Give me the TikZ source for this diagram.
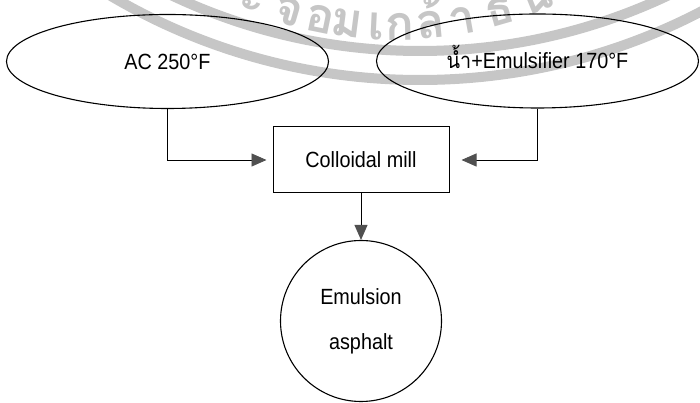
\documentclass[tikz,border=0pt]{standalone}
\usepackage{fontspec}
\setmainfont{Liberation Sans}[FakeStretch=0.9]
\newfontfamily\thaifont[Script=Thai,FakeStretch=0.9]{Loma}
\newfontfamily\sealfont[Script=Thai]{Loma}
\usetikzlibrary{arrows.meta,shapes.geometric}
\definecolor{sealgray}{HTML}{C6C6C6}
\definecolor{tipgray}{HTML}{505050}

\tikzset{
  label font/.style={font=\fontsize{22}{26}\selectfont},
  inputblob/.style={draw=black, line width=1.1pt, ellipse, minimum width=322pt,
    minimum height=94pt, inner sep=0pt, label font, text height=16pt, text depth=0pt},
  millbox/.style={draw=black, line width=1pt, rectangle, minimum width=176pt,
    minimum height=66pt, inner sep=0pt, label font},
  productdisc/.style={draw=black, line width=1.1pt, circle, minimum size=161pt,
    inner sep=0pt, align=center, font=\fontsize{22}{45}\selectfont},
  flow/.style={draw=black, line width=0.9pt,
    -{Triangle[length=15pt,width=13pt,color=tipgray]}},
  sealband/.style={draw=sealgray, line width=10pt},
  sealchar/.style={text=sealgray, anchor=base, inner sep=0pt,
    font=\sealfont\bfseries\fontsize{48}{48}\selectfont},
}

\begin{document}
\begin{tikzpicture}[x=1pt,y=1pt]
\useasboundingbox (0,0) rectangle (700,403);

% faint library seal behind the chart
\begin{scope}
  \clip (0,0) rectangle (700,403);
  \coordinate (ringc) at (420,933);
  \draw[sealband] (ringc) circle (581);
  \draw[sealband] (ringc) circle (610);
  \coordinate (textc) at (395,753);
  \foreach \ang/\ch in {-22.1/ะ, -16.4/จ, -11.5/อ, -7.4/ม, -2.8/เ,
                        0.7/ก, 5.4/ล้, 10.3/า, 16.1/ธ, 22.0/น} {
    \node[sealchar, rotate=\ang] at ([shift={(textc)}]270+\ang:390) {\ch};
  }
\end{scope}

% process chart
\node[inputblob] (ac) at (167.5,341.5) {AC 250°F};
\node[inputblob] (water) at (537.5,342) {{\thaifont น้ำ}+Emulsifier 170°F};
\node[millbox] (mill) at (361,243) {Colloidal mill};
\node[productdisc] (prod) at (361,82) {Emulsion\\asphalt};

\draw[flow, shorten >=6pt] (ac.south) |- (mill.west);
\draw[flow, shorten >=12pt] (water.south) |- (mill.east);
\draw[flow] (mill.south) -- (prod.north);
\end{tikzpicture}
\end{document}
